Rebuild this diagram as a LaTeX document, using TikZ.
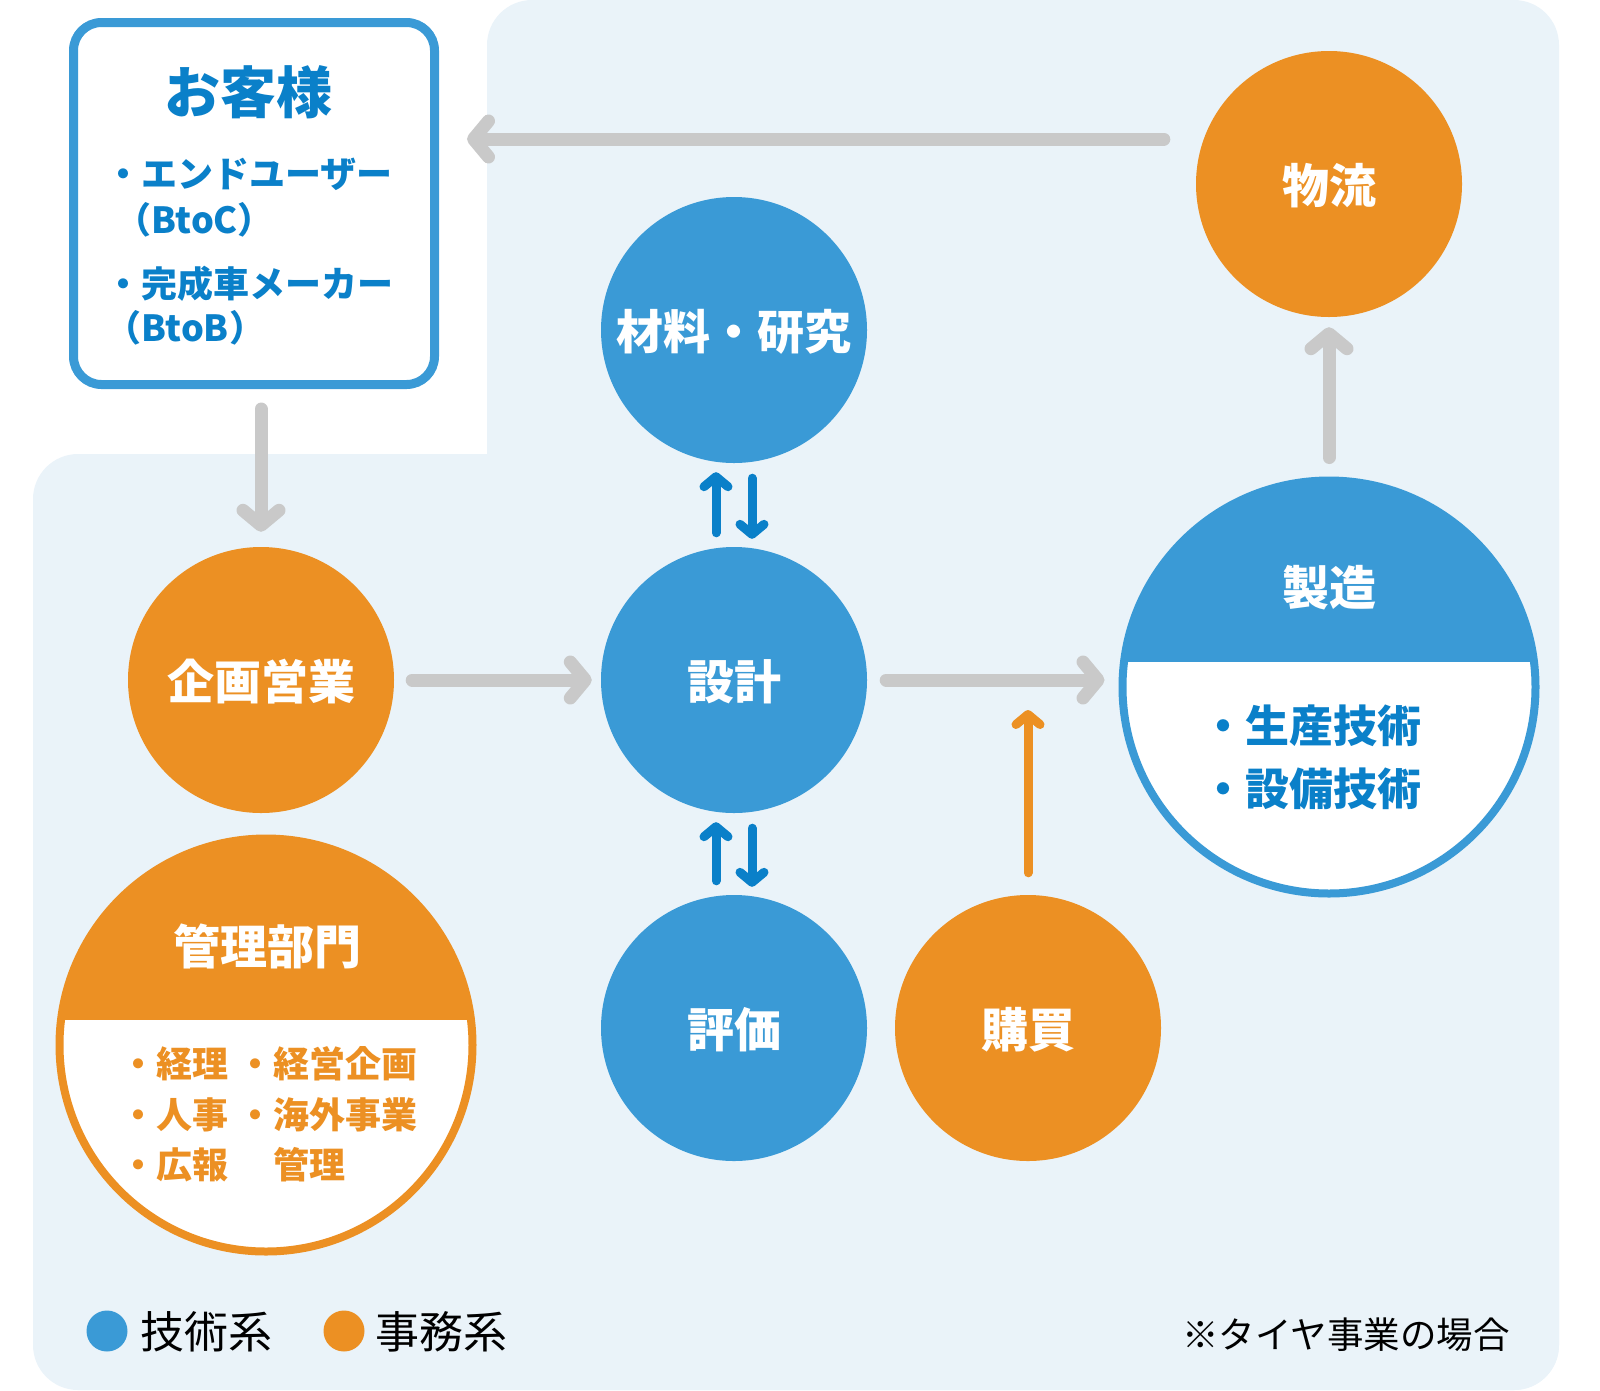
\documentclass[tikz,border=0pt]{standalone}
\usepackage{fontspec}
\usetikzlibrary{arrows.meta}

\newfontfamily\jpfont{Noto Sans CJK JP}

\definecolor{bgblue}{HTML}{EAF3F9}
\definecolor{techblue}{HTML}{3A9AD6}
\definecolor{darkblue}{HTML}{0A80C9}
\definecolor{officeorange}{HTML}{EC9023}
\definecolor{flowgray}{HTML}{C9C9C9}

\begin{document}
\begin{tikzpicture}[x=1pt,y=-1pt]

\def\ssize{266pt}
\def\bsize{413pt}
\def\asep{18pt}

\tikzstyle{snode} = [circle,minimum size=\ssize,inner sep=0pt,text=white,text height=43pt,text depth=4pt,font=\jpfont\bfseries\fontsize{47}{47}\selectfont];
\tikzstyle{bnode} = [circle,minimum size=\bsize,inner sep=0pt,fill=white,line width=8pt];
\tikzstyle{wtitle} = [inner sep=0pt,text=white,text height=41pt,text depth=6pt,font=\jpfont\bfseries\fontsize{47}{47}\selectfont];
\tikzstyle{citem} = [anchor=west,inner sep=0pt,text=darkblue,text height=32pt,text depth=4pt,font=\jpfont\bfseries\fontsize{36}{36}\selectfont];
\tikzstyle{mitem} = [anchor=west,inner sep=0pt,text=darkblue,text height=39pt,text depth=5pt,font=\jpfont\bfseries\fontsize{44}{44}\selectfont];
\tikzstyle{aitem} = [anchor=west,inner sep=0pt,text=officeorange,text height=32pt,text depth=4pt,font=\jpfont\bfseries\fontsize{36}{36}\selectfont];
\tikzstyle{legend} = [anchor=west,inner sep=0pt,text=black,text height=39pt,text depth=5pt,font=\jpfont\fontsize{44}{44}\selectfont];
\tikzstyle{dot} = [circle,minimum size=41pt,inner sep=0pt];
\tikzstyle{gline} = [draw=flowgray,line width=13pt,line cap=round,-{Straight Barb[length=15pt,width=36pt,line join=round,line cap=round]}];
\tikzstyle{bline} = [draw=darkblue,line width=9pt,line cap=round,-{Straight Barb[length=10pt,width=24pt,line join=round,line cap=round]}];
\tikzstyle{oline} = [draw=officeorange,line width=9pt,line cap=round,-{Straight Barb[length=10pt,width=24pt,line join=round,line cap=round]}];

\useasboundingbox (0,0) rectangle (1600,1390);

\fill [bgblue,rounded corners=45pt] (487,0) rectangle (1559,1390);
\fill [bgblue,rounded corners=45pt] (33,454) rectangle (1559,1390);

\node [draw=techblue,line width=9pt,fill=white,rounded corners=28pt,minimum width=361pt,minimum height=362pt,inner sep=0pt] (customer) at (254,203.5) {};
\node [inner sep=0pt,text=darkblue,text height=49pt,text depth=7pt,font=\jpfont\bfseries\fontsize{56}{56}\selectfont] (customertitle) at (248,92) {お客様};
\node [citem] (enduser) at (105,173) {・エンドユーザー};
\node [citem] (btoc) at (115,219) {（BtoC）};
\node [citem] (maker) at (105,283) {・完成車メーカー};
\node [citem] (btob) at (105,327) {（BtoB）};

\node [snode,fill=officeorange] (logistics) at (1329,184) {物流};
\node [snode,fill=techblue] (research) at (734,330) {材料・研究};
\node [snode,fill=techblue] (design) at (734,680) {設計};
\node [snode,fill=techblue] (evaluation) at (734,1028) {評価};
\node [snode,fill=officeorange] (purchasing) at (1028,1028) {購買};
\node [snode,fill=officeorange] (planning) at (261,680) {企画営業};

\node [bnode,draw=techblue] (manufacturing) at (1329,687) {};
\begin{scope}
\clip (manufacturing.center) circle (206.5pt);
\fill [techblue] ([xshift=-220pt,yshift=220pt]manufacturing.center) rectangle ([xshift=220pt,yshift=25pt]manufacturing.center);
\end{scope}
\node [wtitle] (manufacturingtitle) at (1329,588) {製造};
\node [mitem] (prodtech) at (1201,725) {・生産技術};
\node [mitem] (equiptech) at (1201,788) {・設備技術};

\node [bnode,draw=officeorange] (admin) at (266,1045) {};
\begin{scope}
\clip (admin.center) circle (206.5pt);
\fill [officeorange] ([xshift=-220pt,yshift=220pt]admin.center) rectangle ([xshift=220pt,yshift=25pt]admin.center);
\end{scope}
\node [wtitle] (admintitle) at (267,947) {管理部門};
\node [aitem] (accounting) at (120,1063) {・経理};
\node [aitem] (personnel) at (120,1114) {・人事};
\node [aitem] (publicity) at (120,1164) {・広報};
\node [aitem] (corpplan) at (237,1063) {・経営企画};
\node [aitem] (overseas) at (237,1114) {・海外事業};
\node [aitem] (overseasmgmt) at (237,1164) {　管理};

\draw [gline] ([xshift=-32pt,yshift=45pt]logistics.west) -- ([xshift=28pt,yshift=64.5pt]customer.east);
\draw [gline,shorten <=20pt,shorten >=15pt] (planning.north |- customer.south) -- (planning.north);
\draw [gline,shorten <=18pt,shorten >=9pt] (planning.east) -- (design.west);
\draw [gline,shorten <=19pt,shorten >=14pt] (design.east) -- (manufacturing.west |- design.east);
\draw [gline,shorten <=19pt,shorten >=10pt] (manufacturing.north) -- (logistics.south);

\draw [bline,shorten <=14pt,shorten >=9pt] ([xshift=-\asep]design.north) -- ([xshift=-\asep]research.south);
\draw [bline,shorten <=15pt,shorten >=8pt] ([xshift=\asep]research.south) -- ([xshift=\asep]design.north);
\draw [bline,shorten <=14pt,shorten >=9pt] ([xshift=-\asep]evaluation.north) -- ([xshift=-\asep]design.south);
\draw [bline,shorten <=15pt,shorten >=8pt] ([xshift=\asep]design.south) -- ([xshift=\asep]evaluation.north);

\coordinate (purchasetip) at (1028,710);
\draw [oline,shorten <=22pt] (purchasing.north) -- (purchasetip);

\node [dot,fill=techblue] (techdot) at (107,1331) {};
\node [legend] (techlabel) at ([xshift=13pt]techdot.east) {技術系};
\node [dot,fill=officeorange] (officedot) at (344,1331) {};
\node [legend] (officelabel) at ([xshift=11pt]officedot.east) {事務系};
\node [anchor=west,inner sep=0pt,text=black,text height=32pt,text depth=4pt,font=\jpfont\fontsize{36.5}{36.5}\selectfont] (tirenote) at (1182,1334) {※タイヤ事業の場合};

\end{tikzpicture}
\end{document}
